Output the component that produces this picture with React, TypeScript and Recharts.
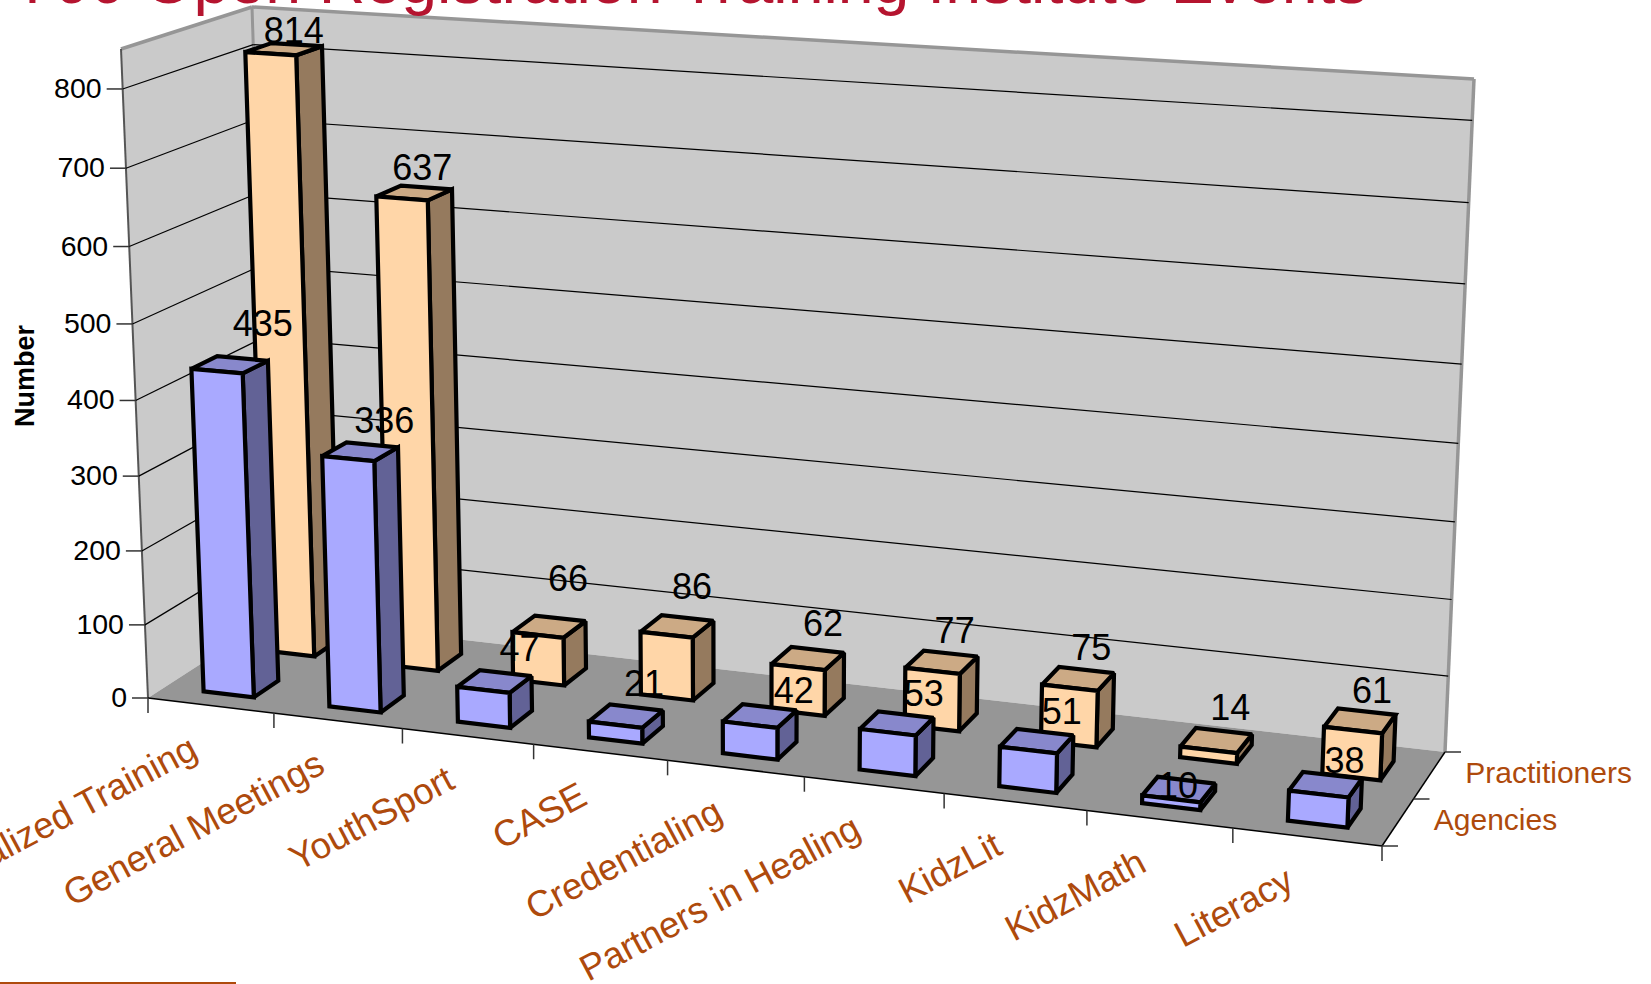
import React from 'react';
import { BarChart, Bar, XAxis, YAxis, LabelList, CartesianGrid } from 'recharts';

const categories = ['Specialized Training', 'General Meetings', 'YouthSport', 'CASE', 'Credentialing', 'Partners in Healing', 'KidzLit', 'KidzMath', 'Literacy'];
const agencies = [435, 336, 47, 21, 42, 53, 51, 10, 38];
const practitioners = [814, 637, 66, 86, 62, 77, 75, 14, 61];
const yTicks = [0, 100, 200, 300, 400, 500, 600, 700, 800];
const seriesNames = ['Agencies', 'Practitioners'];
const titleText = 'Y00 Open Registration Training Institute Events';

const tableRows = categories.map((name, i) => ({ name, agencies: agencies[i], practitioners: practitioners[i] }));

// --- projection of the 3D chart box on to the page ---
const W = 1651, H = 984;
const PLOT = { left: 148, right: 1382, top: 49, bottom: 698 };
const CORNERS = {
  fl0: [148, 698], fl1: [121, 49], fr0: [1382, 846], fr1: [1410, 132],
  bl0: [272, 618], bl1: [252, 7], br0: [1445, 752], br1: [1474, 79],
};
const persp = (t: number, r: number) => t / (r * (1 - t) + t);
const mix = (a: number[], b: number[], t: number) => [a[0] + (b[0] - a[0]) * t, a[1] + (b[1] - a[1]) * t];
function project(u: number, v: number, w: number) {
  const uu = persp(u, 1.1), vv = persp(v, 1.05);
  const f0 = mix(CORNERS.fl0, CORNERS.fr0, uu), f1 = mix(CORNERS.fl1, CORNERS.fr1, uu);
  const b0 = mix(CORNERS.bl0, CORNERS.br0, uu), b1 = mix(CORNERS.bl1, CORNERS.br1, uu);
  return mix(mix(f0, b0, w), mix(f1, b1, w), vv);
}
const uOf = (px: number) => (px - PLOT.left) / (PLOT.right - PLOT.left);
const vOf = (py: number) => (PLOT.bottom - py) / (PLOT.bottom - PLOT.top);
const poly = (pts: number[][]) => pts.map((p) => p[0].toFixed(1) + ',' + p[1].toFixed(1)).join(' ');

const DEPTH = { agencies: [0.14, 0.345], practitioners: [0.645, 0.85] };
const STYLE = {
  agencies: { front: '#A9A9FF', top: '#8888CC', side: '#626296' },
  practitioners: { front: '#FFD6A8', top: '#CCAA85', side: '#957A5E' },
};
// small per-label shifts from the centre of each bar's top face, as the source placed them
const NUDGE = {
  agencies: [[33, -29], [24, -19], [25, -21], [18, -20], [34, -13], [27, -17], [25, -17], [-1, 8], [19, -12]],
  practitioners: [[10, -6], [8, -13], [19, -36], [15, -27], [15, -22], [13, -19], [13, -19], [14, -21], [12, -18]],
};

const FONT = '"Liberation Sans", Arial, sans-serif';
const BROWN = '#AE4A0C';
const GRID = '#969696';

type Series = 'agencies' | 'practitioners';

// Practitioners is the first Bar in the group (drawn first, it stands behind),
// so its right edge and the left edge of Agencies meet on the category centre.
function barGeometry(series: Series, p: any) {
  const centre = (series === 'practitioners' ? p.x + p.width : p.x) + 1;
  const u1 = uOf(centre - p.width / 2), u2 = uOf(centre + p.width / 2);
  const v = vOf(p.y);
  const [w1, w2] = DEPTH[series];
  return {
    fb1: project(u1, 0, w1), fb2: project(u2, 0, w1), bb2: project(u2, 0, w2),
    ft1: project(u1, v, w1), ft2: project(u2, v, w1), bt1: project(u1, v, w2), bt2: project(u2, v, w2),
  };
}

const makeShape = (series: Series) => (p: any) => {
  const g = barGeometry(series, p);
  const s = STYLE[series];
  const common = { stroke: '#000', strokeWidth: 4.2, strokeLinejoin: 'miter' as const, strokeMiterlimit: 2 };
  return (
    <g>
      <polygon points={poly([g.ft2, g.bt2, g.bb2, g.fb2])} fill={s.side} {...common} />
      <polygon points={poly([g.ft1, g.ft2, g.bt2, g.bt1])} fill={s.top} {...common} />
      <polygon points={poly([g.fb1, g.fb2, g.ft2, g.ft1])} fill={s.front} {...common} />
    </g>
  );
};

const makeLabel = (series: Series) => (p: any) => {
  const g = barGeometry(series, p);
  const cx = (g.ft1[0] + g.ft2[0] + g.bt1[0] + g.bt2[0]) / 4;
  const cy = (g.ft1[1] + g.ft2[1] + g.bt1[1] + g.bt2[1]) / 4;
  const n = NUDGE[series][p.index] || [0, 0];
  return (
    <text x={cx + n[0]} y={cy + n[1]} textAnchor="middle" fontFamily={FONT} fontSize={36} fill="#000">
      {p.value}
    </text>
  );
};

const seg = (a: number[], b: number[], stroke: string, sw: number) => (
  <line x1={a[0]} y1={a[1]} x2={b[0]} y2={b[1]} stroke={stroke} strokeWidth={sw} />
);

function Box() {
  const c = CORNERS;
  return (
    <g>
      <polygon points={poly([c.fl0, c.fl1, c.bl1, c.bl0])} fill="#CACACA" />
      <polygon points={poly([c.bl0, c.bl1, c.br1, c.br0])} fill="#CACACA" />
      <polygon points={poly([c.fl0, c.fr0, c.br0, c.bl0])} fill={GRID} />
      {seg(c.fl1, c.bl1, GRID, 3.5)}
      {seg(c.bl1, c.br1, GRID, 3.5)}
      {seg(c.bl1, c.bl0, GRID, 3)}
      {seg(c.br1, c.br0, GRID, 3.5)}
      {seg(c.fl1, c.fl0, '#555', 2)}
      {seg(c.fl0, c.fr0, '#000', 1.5)}
      {seg(c.fr0, c.br0, '#000', 1.5)}
      {seriesNames.map((name, i) => {
        const w = i === 0 ? 0.25 : 0.75;
        const p = project(1, 0, w);
        return (
          <text key={name} x={p[0] + 36} y={p[1] + 7} fontFamily={FONT} fontSize={30} fill={BROWN}>{name}</text>
        );
      })}
      {[0, 0.5, 1].map((w) => {
        const p = project(1, 0, w);
        return <line key={w} x1={p[0]} y1={p[1]} x2={p[0] + 16} y2={p[1]} stroke="#333" strokeWidth={1.5} />;
      })}
      <text x={11} y={3} fontFamily={FONT} fontSize={64.4} fill="#B5142F">{titleText}</text>
      <text transform="translate(34,376) rotate(-90)" textAnchor="middle" fontFamily={FONT} fontSize={27} fontWeight="bold" fill="#000">Number</text>
      <line x1={0} y1={983} x2={236} y2={983} stroke={BROWN} strokeWidth={2} />
    </g>
  );
}

// one horizontal line of the library's grid, folded along the left wall and the back wall;
// the first one carries the box, so that walls and floor lie under all the lines
function GridLine(p: any) {
  const v = vOf(p.y1);
  const a = project(0, v, 0), b = project(0, v, 1), c = project(1, v, 1);
  return (
    <g>
      {p.index === 0 ? <Box /> : null}
      {v > 0.001 ? seg(a, b, '#000', 1.2) : null}
      {v > 0.001 ? seg(b, c, '#000', 1.2) : null}
    </g>
  );
}

function YTick(p: any) {
  const v = vOf(p.y);
  const a = project(0, v, 0);
  return (
    <g>
      {seg([a[0] - 16, a[1]], a, '#333', 1.5)}
      <text x={a[0] - 21} y={a[1] + 9} textAnchor="end" fontFamily={FONT} fontSize={28.5} fill="#000">{p.payload.value}</text>
    </g>
  );
}

function XTick(p: any) {
  const band = (PLOT.right - PLOT.left) / categories.length;
  const u = uOf(p.x);
  const left = project(uOf(p.x - band / 2), 0, 0);
  const right = project(uOf(p.x + band / 2), 0, 0);
  const anchor = project(u, 0, 0);
  const isLast = p.index === categories.length - 1;
  const lx = anchor[0] - 11, ly = anchor[1] + 51;
  return (
    <g>
      <line x1={left[0]} y1={left[1]} x2={left[0]} y2={left[1] + 15} stroke="#333" strokeWidth={1.5} />
      {isLast ? <line x1={right[0]} y1={right[1]} x2={right[0]} y2={right[1] + 15} stroke="#333" strokeWidth={1.5} /> : null}
      <text transform={`translate(${lx},${ly}) rotate(-28)`} textAnchor="end" fontFamily={FONT} fontSize={36.6} fill={BROWN}>{p.payload.value}</text>
    </g>
  );
}

export default function App() {
  return (
    <div style={{ position: 'absolute', left: 0, top: 0, width: W, height: H, overflow: 'hidden', background: '#fff' }}>
      <BarChart
        width={W}
        height={H}
        data={tableRows}
        margin={{ top: PLOT.top, right: W - PLOT.right, bottom: 0, left: 0 }}
        barGap={0}
        barCategoryGap="10%"
      >
        <CartesianGrid vertical={false} syncWithTicks horizontal={(p: any) => <GridLine {...p} />} />
        <YAxis width={PLOT.left} domain={[0, 850]} ticks={yTicks} interval={0} axisLine={false} tickLine={false} tick={(p: any) => <YTick {...p} />} />
        <XAxis dataKey="name" height={H - PLOT.bottom} interval={0} axisLine={false} tickLine={false} tick={(p: any) => <XTick {...p} />} />
        <Bar dataKey="practitioners" name="Practitioners" isAnimationActive={false} shape={makeShape('practitioners')}>
          <LabelList dataKey="practitioners" content={makeLabel('practitioners')} />
        </Bar>
        <Bar dataKey="agencies" name="Agencies" isAnimationActive={false} shape={makeShape('agencies')}>
          <LabelList dataKey="agencies" content={makeLabel('agencies')} />
        </Bar>
      </BarChart>
    </div>
  );
}
